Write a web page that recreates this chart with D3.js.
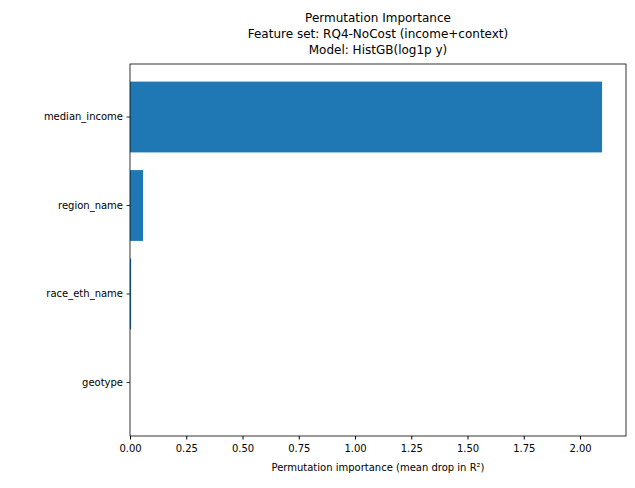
<!DOCTYPE html><html><head><script src="https://cdn.jsdelivr.net/npm/d3@7"></script>
<style>body{margin:0;background:#fff}text{font-family:"DejaVu Sans",sans-serif}</style></head><body>
<svg id="c" width="635" height="488"></svg>
<script>
const features=["median_income","region_name","race_eth_name","geotype"];
const importance=[2.098,0.058,0.005,0.0];
const xTicks=[0,0.25,0.5,0.75,1.0,1.25,1.5,1.75,2.0];
const titleLines=["Permutation Importance","Feature set: RQ4-NoCost (income+context)","Model: HistGB(log1p y)"];
const svg=d3.select("#c");
const L=130,R=626,T=64,B=436;
const x=d3.scaleLinear().domain([0,(R-L)/225]).range([L,R]);
const y=d3.scaleBand().domain(features).range([T,B]).paddingInner(0.2).paddingOuter(0.2+0.0);
// matplotlib barh: height .8, margins
const step=88.5, y0=117;
svg.selectAll("rect.bar").data(features).enter().append("rect")
 .attr("x",x(0)).attr("y",(d,i)=>y0+i*step-35.4).attr("height",70.8)
 .attr("width",(d,i)=>x(importance[i])-x(0)).attr("fill","#1f77b4");
const g=svg.append("g").attr("transform",`translate(0,${B})`).call(d3.axisBottom(x).tickValues(xTicks).tickFormat(d3.format(".2f")).tickSizeOuter(0).tickSize(3.5));
g.select(".domain").remove();
g.selectAll("text").attr("font-size",10).attr("fill","#000").attr("dy","0.9em");
const gy=svg.append("g").attr("transform",`translate(${L},0)`);
features.forEach((f,i)=>{const yy=y0+i*step;
 gy.append("line").attr("x1",-3.5).attr("x2",0).attr("y1",yy).attr("y2",yy).attr("stroke","#000").attr("stroke-width",0.8);
 gy.append("text").attr("x",-7).attr("y",yy).attr("dy","0.32em").attr("text-anchor","end").attr("font-size",10).text(f);});
svg.append("rect").attr("x",L).attr("y",T).attr("width",R-L).attr("height",B-T).attr("fill","none").attr("stroke","#000").attr("stroke-width",0.8);
svg.append("text").attr("x",(L+R)/2).attr("y",471).attr("text-anchor","middle").attr("font-size",10).text("Permutation importance (mean drop in R²)");
titleLines.forEach((t,i)=>svg.append("text").attr("x",(L+R)/2).attr("y",22+i*16).attr("text-anchor","middle").attr("font-size",12).text(t));
</script></body></html>
